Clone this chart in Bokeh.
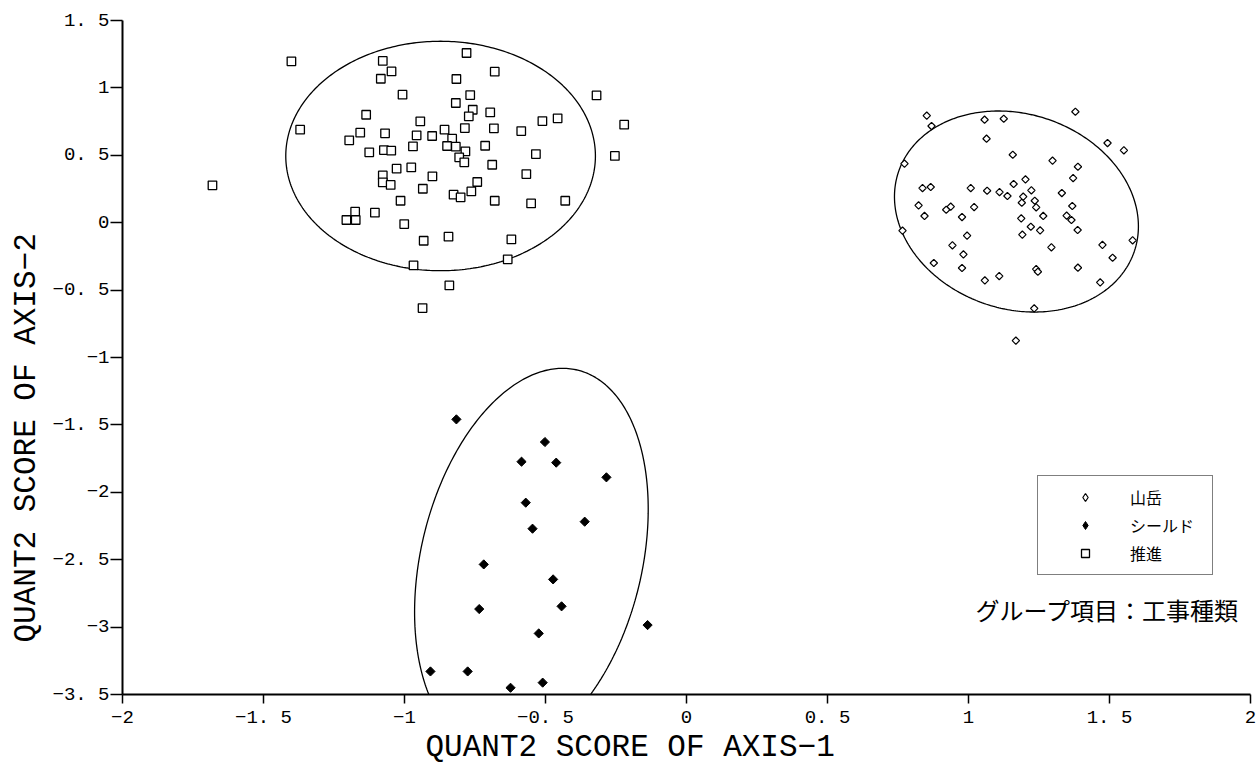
import numpy as np
from bokeh.plotting import figure
from bokeh.models import Legend, LegendItem, Label, FixedTicker, Range1d, Title
from bokeh.embed import file_html
from bokeh.resources import INLINE

# ---------------- data ----------------
group_names = ["山岳", "シールド", "推進"]

mountain_x = [0.852, 0.869, 1.057, 1.125, 1.379, 1.064, 1.493, 1.551, 0.773, 1.157,
              1.298, 1.388, 1.371, 0.837, 0.866, 1.008, 1.066, 1.110, 1.138, 1.160,
              1.202, 1.223, 1.194, 1.235, 1.189, 1.240, 1.331, 0.823, 0.844, 0.921,
              0.937, 0.977, 1.020, 1.187, 1.265, 1.368, 1.348, 1.365, 1.387, 1.221,
              1.254, 1.191, 0.766, 0.995, 0.943, 0.982, 1.294, 1.475, 1.582, 1.511,
              0.877, 0.977, 1.240, 1.246, 1.388, 1.058, 1.109, 1.467, 1.233, 1.168]
mountain_y = [0.794, 0.717, 0.764, 0.771, 0.823, 0.623, 0.591, 0.537, 0.438, 0.504,
              0.460, 0.415, 0.331, 0.257, 0.265, 0.257, 0.237, 0.227, 0.198, 0.287,
              0.321, 0.240, 0.193, 0.163, 0.148, 0.114, 0.220, 0.128, 0.050, 0.096,
              0.119, 0.042, 0.116, 0.032, 0.050, 0.124, 0.052, 0.020, -0.054, -0.030,
              -0.057, -0.089, -0.059, -0.096, -0.168, -0.235, -0.183, -0.165, -0.131, -0.260,
              -0.299, -0.336, -0.344, -0.364, -0.334, -0.428, -0.396, -0.443, -0.636, -0.875]

shield_x = [-0.816, -0.502, -0.585, -0.462, -0.284, -0.570, -0.361, -0.546, -0.719,
            -0.473, -0.735, -0.443, -0.138, -0.524, -0.908, -0.776, -0.624, -0.510]
shield_y = [-1.459, -1.627, -1.773, -1.780, -1.889, -2.077, -2.218, -2.270, -2.535,
            -2.646, -2.866, -2.846, -2.985, -3.047, -3.329, -3.329, -3.450, -3.412]

push_x = [-1.401, -1.077, -1.046, -1.084, -0.780, -0.680, -0.816, -1.007, -0.767, -0.818,
          -0.758, -0.772, -0.696, -0.319, -0.221, -0.254, -0.511, -0.457, -1.136, -1.370,
          -1.157, -1.196, -1.069, -0.944, -0.957, -0.902, -0.970, -0.858, -0.786, -0.683,
          -0.586, -0.831, -0.849, -0.818, -0.784, -0.806, -0.788, -0.714, -0.534, -1.125,
          -1.073, -1.047, -0.689, -0.568, -1.028, -0.976, -0.901, -1.077, -1.077, -1.049,
          -0.935, -0.742, -0.763, -0.826, -0.801, -1.014, -0.680, -0.551, -0.430, -1.681,
          -1.175, -1.206, -1.173, -1.105, -1.001, -0.932, -0.844, -0.621, -0.634, -0.968,
          -0.841, -0.936]
push_y = [1.197, 1.200, 1.122, 1.068, 1.259, 1.120, 1.066, 0.950, 0.947, 0.888,
          0.838, 0.789, 0.818, 0.944, 0.727, 0.495, 0.754, 0.774, 0.801, 0.690,
          0.668, 0.611, 0.663, 0.752, 0.648, 0.643, 0.566, 0.690, 0.702, 0.700,
          0.680, 0.623, 0.569, 0.564, 0.529, 0.485, 0.448, 0.571, 0.509, 0.522,
          0.539, 0.534, 0.430, 0.361, 0.401, 0.410, 0.344, 0.351, 0.299, 0.280,
          0.252, 0.302, 0.232, 0.208, 0.188, 0.163, 0.163, 0.143, 0.163, 0.277,
          0.082, 0.020, 0.020, 0.074, -0.010, -0.134, -0.104, -0.124, -0.272, -0.317,
          -0.465, -0.633]

# confidence ellipses: centre and conjugate semi-diameters (order: 山岳, シールド, 推進)
ell_cx = [1.170, -0.550, -0.872]
ell_cy = [0.083, -2.507, 0.495]
ell_ax = [0.432, 0.413, 0.549]
ell_ay = [-0.074, 0.274, 0.0]
ell_bx = [-0.021, 0.032, 0.0]
ell_by = [0.742, 1.400, 0.851]

x_ticks = [-2, -1.5, -1, -0.5, 0, 0.5, 1, 1.5, 2]
x_tick_labels = ["−2", "−1. 5", "−1", "−0. 5", "0", "0. 5", "1", "1. 5", "2"]
y_ticks = [1.5, 1, 0.5, 0, -0.5, -1, -1.5, -2, -2.5, -3, -3.5]
y_tick_labels = ["1. 5", "1", "0. 5", "0", "−0. 5", "−1", "−1. 5", "−2", "−2. 5", "−3", "−3. 5"]

x_title = "QUANT2 SCORE OF AXIS−1"
y_title = "QUANT2 SCORE OF AXIS−2"
note_text = "グループ項目：工事種類"

# ---------------- figure ----------------
LATIN = "Liberation Mono"
JP = "Noto Sans CJK JP"

p = figure(width=1259, height=764, output_backend="svg", toolbar_location=None,
           x_range=Range1d(-2, 2), y_range=Range1d(-3.5, 1.5),
           min_border_left=122, min_border_right=9, min_border_top=20, min_border_bottom=70)
p.outline_line_color = None
p.grid.visible = False
p.background_fill_color = "white"
p.border_fill_color = "white"

for ax in (p.xaxis[0], p.yaxis[0]):
    ax.axis_line_width = 2
    ax.axis_line_color = "black"
    ax.major_tick_line_width = 1.5
    ax.major_tick_line_color = "black"
    ax.major_tick_in = 0
    ax.minor_tick_line_color = None
    ax.major_label_text_font = LATIN
    ax.major_label_text_font_size = "19px"
    ax.major_label_text_color = "black"

p.xaxis.ticker = FixedTicker(ticks=x_ticks)
p.yaxis.ticker = FixedTicker(ticks=y_ticks)
p.xaxis.major_label_overrides = {float(t): s for t, s in zip(x_ticks, x_tick_labels)}
p.yaxis.major_label_overrides = {float(t): s for t, s in zip(y_ticks, y_tick_labels)}
p.xaxis.major_tick_out = 9
p.yaxis.major_tick_out = 12
p.xaxis.major_label_standoff = 3
p.yaxis.major_label_standoff = 1

# axis titles (as side titles, so they can be offset like the original print)
xt = Title(text=x_title, align="left", offset=303, standoff=-7,
           text_font=LATIN, text_font_size="31px", text_font_style="normal", text_color="black")
yt = Title(text=y_title, align="left", offset=52, standoff=12,
           text_font=LATIN, text_font_size="31px", text_font_style="normal", text_color="black")
p.add_layout(xt, "below")
p.add_layout(yt, "left")

# ellipses
t = np.linspace(0, 2 * np.pi, 361)
for cx, cy, axx, ayy, bxx, byy in zip(ell_cx, ell_cy, ell_ax, ell_ay, ell_bx, ell_by):
    ex = cx + axx * np.cos(t) + bxx * np.sin(t)
    ey = cy + ayy * np.cos(t) + byy * np.sin(t)
    p.line(ex, ey, line_color="black", line_width=1.3)

# points
p.scatter(mountain_x, mountain_y, marker="square", angle=np.pi / 4, size=5.2,
          fill_color="white", line_color="black", line_width=1.2)
p.scatter(shield_x, shield_y, marker="square", angle=np.pi / 4, size=6.5,
          fill_color="black", line_color="black", line_width=1)
p.scatter(push_x, push_y, marker="square", size=8.5,
          fill_color="white", line_color="black", line_width=1.3)

# legend swatches (a single empty NaN point each, only drawn inside the legend)
l_m = p.scatter([np.nan], [np.nan], marker="diamond", fill_color="white", line_color="black", line_width=1.2)
l_s = p.scatter([np.nan], [np.nan], marker="diamond", fill_color="black", line_color="black", line_width=1)
l_p = p.scatter([np.nan], [np.nan], marker="square", fill_color="white", line_color="black", line_width=1.3)

legend = Legend(items=[LegendItem(label=group_names[0], renderers=[l_m]),
                       LegendItem(label=group_names[1], renderers=[l_s]),
                       LegendItem(label=group_names[2], renderers=[l_p])],
                location=(915, 119))
legend.label_text_font = JP
legend.label_text_font_size = "16px"
legend.label_text_color = "black"
legend.border_line_color = "black"
legend.border_line_width = 1.5
legend.background_fill_color = "white"
legend.background_fill_alpha = 1
legend.padding = 9
legend.spacing = 4
legend.margin = 0
legend.glyph_width = 76
legend.glyph_height = 20
legend.label_height = 24
legend.label_width = 73
legend.label_standoff = 7
p.add_layout(legend)

note = Label(x=1.025, y=-2.871, text=note_text, text_font=JP, text_font_size="24px",
             text_baseline="middle", text_align="left", text_color="black")
p.add_layout(note)

open("out.html", "w").write(file_html(p, INLINE))
